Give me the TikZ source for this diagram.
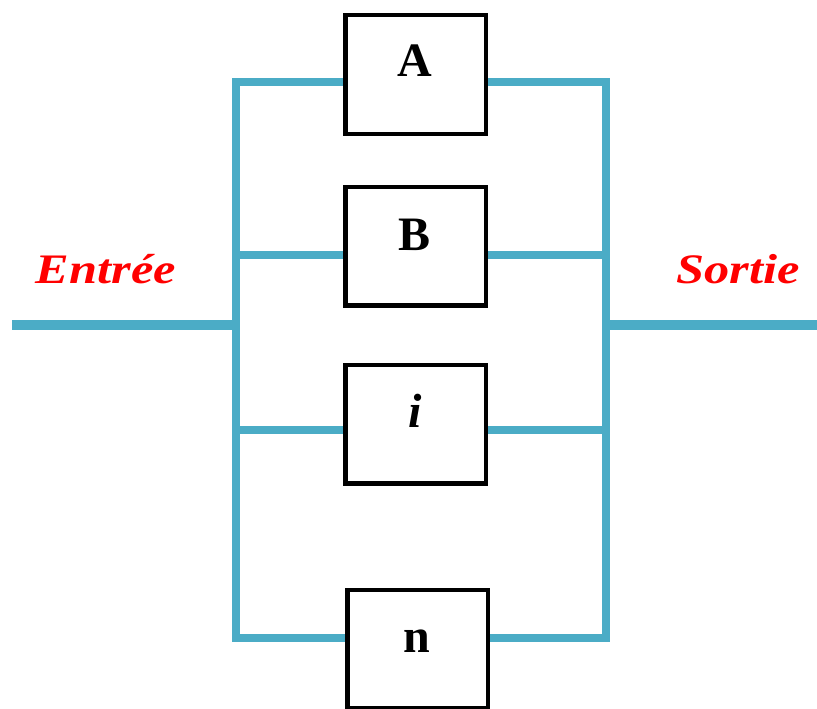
\documentclass[tikz,border=0pt]{standalone}
\usepackage{fontspec}
\setmainfont{Liberation Serif}
\newfontfamily\tagfont[FakeStretch=1.2]{Liberation Serif}
\definecolor{busblue}{HTML}{4BACC6}
\definecolor{tagred}{HTML}{FF0000}
\begin{document}
\begin{tikzpicture}[x=1pt,y=-1pt,
  bus/.style={draw=busblue,line width=8.5pt,line join=miter},
  block/.style={draw=black,line width=3pt,minimum width=139pt,minimum height=117pt,inner sep=0pt},
  blocklabel/.style={anchor=base,font=\fontsize{48}{50}\selectfont\bfseries},
  iolabel/.style={anchor=base,text=tagred,font=\tagfont\fontsize{42}{44}\selectfont\bfseries\itshape}]
\useasboundingbox (0,0) rectangle (817,709);

% parallel blocks
\node[block] (A) at (415.5,74.5) {};
\node[block] (B) at (415.5,246) {};
\node[block] (I) at (415.5,424) {};
\node[block] (N) at (417.5,649) {};

\node[blocklabel] (tA) at (415,77) {A};
\node[blocklabel] (tB) at (415,250) {B};
\node[blocklabel] (tI) at (415,427) {\itshape i};
\node[blocklabel] (tN) at (417,652) {n};

% bus junctions
\coordinate (lA) at (236,82);
\coordinate (lB) at (236,255);
\coordinate (lI) at (236,430);
\coordinate (lN) at (236,638);
\coordinate (rA) at (606,82);
\coordinate (rB) at (606,255);
\coordinate (rI) at (606,430);
\coordinate (rN) at (606,638);
\coordinate (lM) at (236,325);
\coordinate (rM) at (606,325);
\coordinate (inp) at (12,325);
\coordinate (outp) at (817,325);

% left bus and branches
\draw[bus] (lA -| A.west) -- (lA) -- (lN) -- (lN -| N.west);
\draw[bus] (lB) -- (lB -| B.west);
\draw[bus] (lI) -- (lI -| I.west);
% right bus and branches
\draw[bus] (rA -| A.east) -- (rA) -- (rN) -- (rN -| N.east);
\draw[bus] (rB) -- (rB -| B.east);
\draw[bus] (rI) -- (rI -| I.east);
% input and output
\draw[bus,line width=10pt] (inp) -- (lM);
\draw[bus,line width=10pt] (rM) -- (outp);

% redraw block frames over the branch ends
\foreach \b in {A,B,I,N}
  \draw[line width=3pt] (\b.north west) rectangle (\b.south east);

\node[iolabel] (entree) at (106,283) {Entrée};
\node[iolabel] (sortie) at (738,283) {Sortie};
\end{tikzpicture}
\end{document}
